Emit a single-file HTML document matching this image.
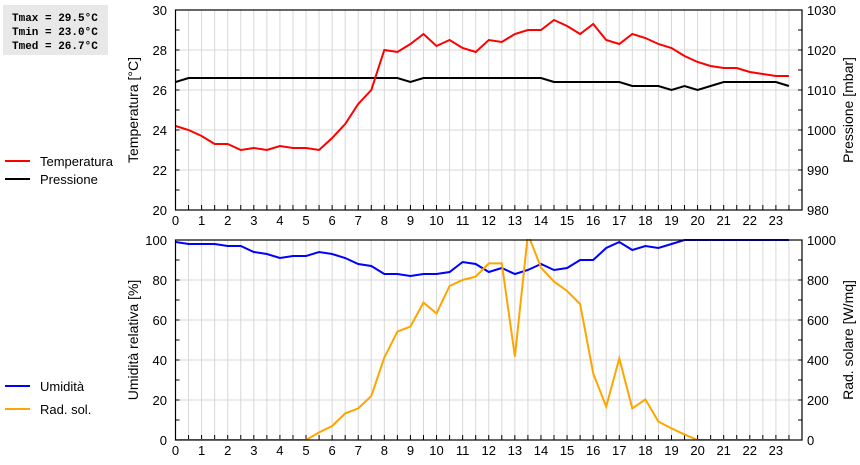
<!DOCTYPE html>
<html><head><meta charset="utf-8">
<style>
body{margin:0;background:#fff;width:860px;height:460px;overflow:hidden;font-family:"Liberation Sans","DejaVu Sans",sans-serif;}
svg text{font-family:"Liberation Sans","DejaVu Sans",sans-serif;}
svg text.mono{font-family:"Liberation Mono","DejaVu Sans Mono",monospace;font-weight:bold;}
</style></head><body>
<svg id="c" width="860" height="460" xmlns="http://www.w3.org/2000/svg">
  <rect x="3" y="5" width="105" height="50" fill="#e8e8e8"/>
  <g font-size="11" fill="#000">
    <text class="mono" x="12" y="21" style="font-family:'Liberation Mono',monospace;font-weight:bold">Tmax = 29.5°C</text>
    <text class="mono" x="12" y="35" style="font-family:'Liberation Mono',monospace;font-weight:bold">Tmin = 23.0°C</text>
    <text class="mono" x="12" y="49" style="font-family:'Liberation Mono',monospace;font-weight:bold">Tmed = 26.7°C</text>
  </g>
  <g font-size="13">
    <line x1="5" y1="161" x2="30" y2="161" stroke="#f00" stroke-width="2"/>
    <text x="40" y="166">Temperatura</text>
    <line x1="5" y1="179" x2="30" y2="179" stroke="#000" stroke-width="2"/>
    <text x="40" y="184">Pressione</text>
    <line x1="5" y1="386" x2="30" y2="386" stroke="#00f" stroke-width="2"/>
    <text x="40" y="391">Umidità</text>
    <line x1="5" y1="409" x2="30" y2="409" stroke="#ffa500" stroke-width="2"/>
    <text x="40" y="414">Rad. sol.</text>
  </g>
  <g id="plots"></g>
</svg>
<script>
const hours = [0,0.5,1,1.5,2,2.5,3,3.5,4,4.5,5,5.5,6,6.5,7,7.5,8,8.5,9,9.5,10,10.5,11,11.5,12,12.5,13,13.5,14,14.5,15,15.5,16,16.5,17,17.5,18,18.5,19,19.5,20,20.5,21,21.5,22,22.5,23,23.5];
const temperatura = [24.2,24.0,23.7,23.3,23.3,23.0,23.1,23.0,23.2,23.1,23.1,23.0,23.6,24.3,25.3,26.0,28.0,27.9,28.3,28.8,28.2,28.5,28.1,27.9,28.5,28.4,28.8,29.0,29.0,29.5,29.2,28.8,29.3,28.5,28.3,28.8,28.6,28.3,28.1,27.7,27.4,27.2,27.1,27.1,26.9,26.8,26.7,26.7];
const pressione = [1012,1013,1013,1013,1013,1013,1013,1013,1013,1013,1013,1013,1013,1013,1013,1013,1013,1013,1012,1013,1013,1013,1013,1013,1013,1013,1013,1013,1013,1012,1012,1012,1012,1012,1012,1011,1011,1011,1010,1011,1010,1011,1012,1012,1012,1012,1012,1011];
const umidita = [99,98,98,98,97,97,94,93,91,92,92,94,93,91,88,87,83,83,82,83,83,84,89,88,84,86,83,85,88,85,86,90,90,96,99,95,97,96,98,100,100,100,100,100,100,100,100,100];
const radiazione = [0,0,0,0,0,0,0,0,0,0,0,38,70,133,158,220,412,542,567,687,633,770,800,817,883,883,417,1030,862,792,745,680,333,167,408,158,203,92,58,28,0,0,0,0,0,0,0,0];
const xTickLabels = ["0","1","2","3","4","5","6","7","8","9","10","11","12","13","14","15","16","17","18","19","20","21","22","23"];
const tempTicks = [20,22,24,26,28,30];
const presTicks = [980,990,1000,1010,1020,1030];
const humTicks = [0,20,40,60,80,100];
const radTicks = [0,200,400,600,800,1000];

const NS="http://www.w3.org/2000/svg";
const root=document.getElementById('plots');
const X0=175.5,X1=802;
const xs=h=>X0+(X1-X0)*h/24;
function mk(tag,attrs,parent){const e=document.createElementNS(NS,tag);for(const k in attrs)e.setAttribute(k,attrs[k]);(parent||root).appendChild(e);return e;}

function panel(id,top,bot,lMin,lMax,rMin,rMax,lTicks,rTicks,lTitle,rTitle,series){
  const g=mk('g',{});
  
  
  const yl=v=>bot-(bot-top)*(v-lMin)/(lMax-lMin);
  const yr=v=>bot-(bot-top)*(v-rMin)/(rMax-rMin);
  for(let i=1;i<48;i++){const x=xs(i/2);const l=mk('line',{x1:x,y1:top,x2:x,y2:bot,stroke:'#d8d8d8','stroke-width':1},g);
    }
  lTicks.forEach((v,i)=>{const y=yl(v);
    if(i>0&&i<lTicks.length-1){const l=mk('line',{x1:X0,y1:y,x2:X1,y2:y,stroke:'#d8d8d8','stroke-width':1},g);
      }
    const t=mk('text',{x:167,y:y+5,'text-anchor':'end','font-size':13},g);t.textContent=v;
    
    if(i<lTicks.length-1){const ym=yl(v+(lTicks[1]-lTicks[0])/2);
      mk('line',{x1:X0,y1:ym,x2:X0+4,y2:ym,stroke:'#000'},g);mk('line',{x1:X1-4,y1:ym,x2:X1,y2:ym,stroke:'#000'},g);}
    mk('line',{x1:X0,y1:y,x2:X0+4,y2:y,stroke:'#000'},g);mk('line',{x1:X1-4,y1:y,x2:X1,y2:y,stroke:'#000'},g);
  });
  rTicks.forEach(v=>{const t=mk('text',{x:807,y:yr(v)+5,'font-size':13},g);t.textContent=v;
    });
  for(let i=1;i<48;i++){const x=xs(i/2);mk('line',{x1:x,y1:bot,x2:x,y2:bot-5,stroke:'#000'},g);}
  xTickLabels.forEach((s,i)=>{const t=mk('text',{x:xs(i),y:bot+15,'text-anchor':'middle','font-size':13},g);t.textContent=s;
    });
  const lt=mk('text',{transform:`translate(138,${(top+bot)/2}) rotate(-90)`,'text-anchor':'middle','font-size':14},g);lt.textContent=lTitle;
  
  const rt=mk('text',{transform:`translate(853,${(top+bot)/2}) rotate(-90)`,'text-anchor':'middle','font-size':14},g);rt.textContent=rTitle;
  
  const cid='clip-'+id;
  const cp=mk('clipPath',{id:cid},g);mk('rect',{x:X0,y:top-1,width:X1-X0,height:bot-top+1},cp);
  series.forEach(s=>{const yf=s.axis==='l'?yl:yr;
    const pts=s.data.map((v,i)=>xs(hours[i]).toFixed(1)+','+yf(v).toFixed(1)).join(' ');
    const p=mk('polyline',{points:pts,fill:'none',stroke:s.color,'stroke-width':2,'clip-path':`url(#${cid})`},g);
    });
  const fr=mk('rect',{x:X0,y:top,width:X1-X0,height:bot-top,fill:'none',stroke:'#000','stroke-width':1.2},g);
  
}
panel('top',10,210,20,30,980,1030,tempTicks,presTicks,'Temperatura [°C]','Pressione [mbar]',
  [{data:pressione,axis:'r',color:'#000',name:'pressione-line'},{data:temperatura,axis:'l',color:'#f00',name:'temperatura-line'}]);
panel('bottom',240,440,0,100,0,1000,humTicks,radTicks,'Umidità relativa [%]','Rad. solare [W/mq]',
  [{data:umidita,axis:'l',color:'#00f',name:'umidita-line'},{data:radiazione,axis:'r',color:'#ffa500',name:'radiazione-line'}]);
</script>
</body></html>
